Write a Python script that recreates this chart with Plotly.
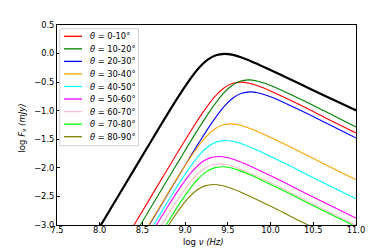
import plotly.graph_objects as go

# ---- data ----
theta_bins = ["0-10", "10-20", "20-30", "30-40", "40-50", "50-60", "60-70", "70-80", "80-90"]
bin_colors = ["#ff0000", "#008000", "#0000ff", "#ffa500", "#00ffff", "#ff00ff", "#ffc0cb", "#00ff00", "#808000"]

nu_total = [7.86, 8.21, 8.46, 8.66, 8.86, 9.01, 9.16, 9.26, 9.36, 9.46, 9.56, 9.66, 9.81, 9.96, 10.21, 10.46, 10.71, 10.96, 11.21]
f_total = [-3.385, -2.51, -1.886, -1.388, -0.898, -0.551, -0.254, -0.112, -0.03, -0.005, -0.024, -0.069, -0.16, -0.26, -0.435, -0.615, -0.79, -0.965, -1.14]

nu_00_10 = [8.05, 8.40, 8.65, 8.85, 9.05, 9.20, 9.35, 9.45, 9.55, 9.65, 9.75, 9.85, 10.00, 10.15, 10.40, 10.65, 10.90, 11.15, 11.40]
f_00_10 = [-3.88, -3.005, -2.381, -1.883, -1.393, -1.046, -0.749, -0.607, -0.525, -0.50, -0.519, -0.564, -0.655, -0.76, -0.94, -1.13, -1.315, -1.50, -1.685]

nu_10_20 = [8.14, 8.49, 8.74, 8.94, 9.14, 9.29, 9.44, 9.54, 9.64, 9.74, 9.84, 9.94, 10.09, 10.24, 10.49, 10.74, 10.99, 11.24, 11.49]
f_10_20 = [-3.84, -2.965, -2.341, -1.843, -1.353, -1.006, -0.709, -0.567, -0.485, -0.46, -0.479, -0.524, -0.615, -0.72, -0.90, -1.09, -1.275, -1.46, -1.645]

nu_20_30 = [8.16, 8.51, 8.76, 8.96, 9.16, 9.31, 9.46, 9.56, 9.66, 9.76, 9.86, 9.96, 10.11, 10.26, 10.51, 10.76, 11.01, 11.26, 11.51]
f_20_30 = [-4.05, -3.175, -2.551, -2.053, -1.563, -1.216, -0.919, -0.777, -0.695, -0.67, -0.689, -0.734, -0.825, -0.93, -1.11, -1.30, -1.485, -1.67, -1.855]

nu_30_40 = [7.93, 8.28, 8.53, 8.73, 8.93, 9.08, 9.23, 9.33, 9.43, 9.53, 9.63, 9.73, 9.88, 10.03, 10.28, 10.53, 10.78, 11.03, 11.28]
f_30_40 = [-4.61, -3.735, -3.111, -2.613, -2.123, -1.776, -1.479, -1.337, -1.255, -1.23, -1.249, -1.294, -1.385, -1.49, -1.67, -1.86, -2.045, -2.23, -2.415]

nu_40_50 = [7.87, 8.22, 8.47, 8.67, 8.87, 9.02, 9.17, 9.27, 9.37, 9.47, 9.57, 9.67, 9.82, 9.97, 10.22, 10.47, 10.72, 10.97, 11.22]
f_40_50 = [-4.90, -4.025, -3.401, -2.903, -2.413, -2.066, -1.769, -1.627, -1.545, -1.52, -1.539, -1.584, -1.675, -1.78, -1.96, -2.15, -2.335, -2.52, -2.705]

nu_50_60 = [7.79, 8.14, 8.39, 8.59, 8.79, 8.94, 9.09, 9.19, 9.29, 9.39, 9.49, 9.59, 9.74, 9.89, 10.14, 10.39, 10.64, 10.89, 11.14]
f_50_60 = [-5.18, -4.305, -3.681, -3.183, -2.693, -2.346, -2.049, -1.907, -1.825, -1.80, -1.819, -1.864, -1.955, -2.06, -2.24, -2.43, -2.615, -2.80, -2.985]

nu_60_70 = [7.80, 8.15, 8.40, 8.60, 8.80, 8.95, 9.10, 9.20, 9.30, 9.40, 9.50, 9.60, 9.75, 9.90, 10.15, 10.40, 10.65, 10.90, 11.15]
f_60_70 = [-5.31, -4.435, -3.811, -3.313, -2.823, -2.476, -2.179, -2.037, -1.955, -1.93, -1.949, -1.994, -2.085, -2.19, -2.37, -2.56, -2.745, -2.93, -3.115]

nu_70_80 = [7.83, 8.18, 8.43, 8.63, 8.83, 8.98, 9.13, 9.23, 9.33, 9.43, 9.53, 9.63, 9.78, 9.93, 10.18, 10.43, 10.68, 10.93, 11.18]
f_70_80 = [-5.36, -4.485, -3.861, -3.363, -2.873, -2.526, -2.229, -2.087, -2.005, -1.98, -1.999, -2.044, -2.135, -2.24, -2.42, -2.61, -2.795, -2.98, -3.165]

nu_80_90 = [7.73, 8.08, 8.33, 8.53, 8.73, 8.88, 9.03, 9.13, 9.23, 9.33, 9.43, 9.53, 9.68, 9.83, 10.08, 10.33, 10.58, 10.83, 11.08]
f_80_90 = [-5.67, -4.795, -4.171, -3.673, -3.183, -2.836, -2.539, -2.397, -2.315, -2.29, -2.309, -2.354, -2.445, -2.55, -2.73, -2.92, -3.105, -3.29, -3.475]

x_ticks = [7.5, 8.0, 8.5, 9.0, 9.5, 10.0, 10.5, 11.0]
y_ticks = [-3.0, -2.5, -2.0, -1.5, -1.0, -0.5, 0.0, 0.5]

bin_nu = [nu_00_10, nu_10_20, nu_20_30, nu_30_40, nu_40_50, nu_50_60, nu_60_70, nu_70_80, nu_80_90]
bin_f = [f_00_10, f_10_20, f_20_30, f_30_40, f_40_50, f_50_60, f_60_70, f_70_80, f_80_90]

FONT = "DejaVu Sans"
fig = go.Figure()

fig.add_trace(go.Scatter(x=nu_total, y=f_total, mode="lines", line=dict(color="black", width=2.2, shape="spline"),
                         showlegend=False, hoverinfo="skip"))
for lab, col, xs, ys in zip(theta_bins, bin_colors, bin_nu, bin_f):
    fig.add_trace(go.Scatter(x=xs, y=ys, mode="lines", line=dict(color=col, width=1.1, shape="spline"),
                             name=lab, showlegend=False, hoverinfo="skip"))

# ---- custom legend (matplotlib-like) ----
W, H, L, T = 374, 249, 49, 17
PW, PH = 299, 200
def px(x):
    return (x - L) / PW
def py(y):
    return 1 - (y - T) / PH

shapes = [dict(type="rect", xref="paper", yref="paper", x0=px(51.7), x1=px(130.5), y0=py(137.7), y1=py(20.7),
               line=dict(color="#d0d0d0", width=1), fillcolor="rgba(255,255,255,0.85)", layer="above")]
annotations = []
for i, (lab, col) in enumerate(zip(theta_bins, bin_colors)):
    yy = 28.3 + 12.55 * i
    shapes.append(dict(type="line", xref="paper", yref="paper", x0=px(56), x1=px(74), y0=py(yy), y1=py(yy),
                       line=dict(color=col, width=1.3), layer="above"))
    annotations.append(dict(xref="paper", yref="paper", x=px(80), y=py(yy), xanchor="left", yanchor="middle",
                            text="<i>θ</i> = " + lab + "°", showarrow=False,
                            font=dict(family=FONT, size=8.3, color="black")))

# axis titles placed as annotations for exact positioning
annotations.append(dict(xref="paper", yref="paper", x=px(195), y=py(233.5), xanchor="center", yanchor="middle",
                        text="log <i>ν</i> <i>(Hz)</i>", showarrow=False,
                        font=dict(family=FONT, size=8.5, color="black")))
annotations.append(dict(xref="paper", yref="paper", x=px(13.5), y=py(120), xanchor="center", yanchor="middle",
                        text="log <i>F</i><sub><i>ν</i></sub> <i>(mJy)</i>", showarrow=False, textangle=-90,
                        font=dict(family=FONT, size=8.5, color="black")))

axis_common = dict(showline=True, linecolor="black", linewidth=1, mirror=True, ticks="inside", ticklen=3,
                   tickcolor="black", tickwidth=1, showgrid=False, zeroline=False,
                   tickfont=dict(family=FONT, size=8.3, color="black"), tickformat=".1f")

fig.update_layout(
    width=W, height=H, margin=dict(l=L, r=W - L - PW, t=T, b=H - T - PH),
    plot_bgcolor="white", paper_bgcolor="white",
    xaxis=dict(range=[7.5, 11.0], tickvals=x_ticks, ticklabelstandoff=-3, **axis_common),
    yaxis=dict(range=[-3.0, 0.5], tickvals=y_ticks, **axis_common),
    shapes=shapes, annotations=annotations,
)

fig.write_html("out.html")
